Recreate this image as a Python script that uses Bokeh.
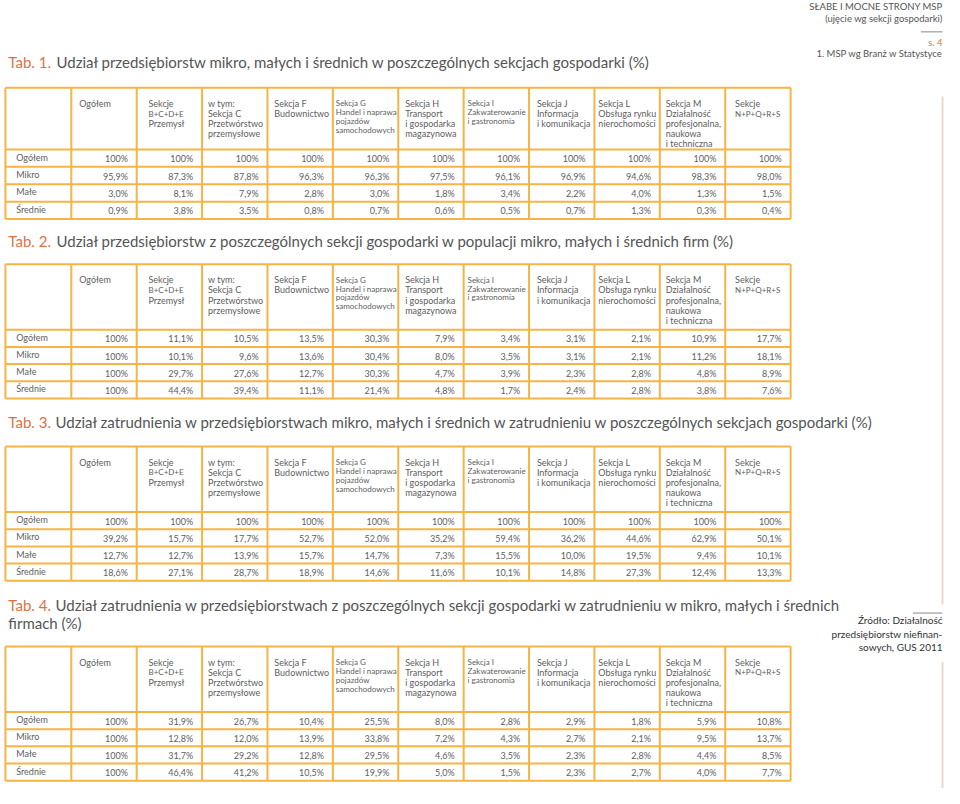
from bokeh.plotting import figure
from bokeh.models import Range1d, ColumnDataSource
from bokeh.core.properties import value
from bokeh.embed import file_html
from bokeh.resources import INLINE

FONT = "Lato"

# ---------------- data ----------------
row_labels = ["Ogółem", "Mikro", "Małe", "Średnie"]

col_headers = [
    "Ogółem",
    "Sekcje\nB+C+D+E\nPrzemysł",
    "w tym:\nSekcja C\nPrzetwórstwo\nprzemysłowe",
    "Sekcja F\nBudownictwo",
    "Sekcja G\nHandel i naprawa\npojazdów\nsamochodowych",
    "Sekcja H\nTransport\ni gospodarka\nmagazynowa",
    "Sekcja I\nZakwaterowanie\ni gastronomia",
    "Sekcja J\nInformacja\ni komunikacja",
    "Sekcja L\nObsługa rynku\nnierochomości",
    "Sekcja M\nDziałalność\nprofesjonalna,\nnaukowa\ni techniczna",
    "Sekcje\nN+P+Q+R+S",
]
small_header_cols = [4, 6]
code_lines = ["B+C+D+E", "N+P+Q+R+S"]

title_tags = ["Tab. 1.", "Tab. 2.", "Tab. 3.", "Tab. 4."]
title_texts = [
    ["Udział przedsiębiorstw mikro, małych i średnich w poszczególnych sekcjach gospodarki (%)"],
    ["Udział przedsiębiorstw z poszczególnych sekcji gospodarki w populacji mikro, małych i średnich firm (%)"],
    ["Udział zatrudnienia w przedsiębiorstwach mikro, małych i średnich w zatrudnieniu w poszczególnych sekcjach gospodarki (%)"],
    ["Udział zatrudnienia w przedsiębiorstwach z poszczególnych sekcji gospodarki w zatrudnieniu w mikro, małych i średnich",
     "firmach (%)"],
]

# Tab. 1
t1_ogolem = [100, 100, 100, 100, 100, 100, 100, 100, 100, 100, 100]
t1_mikro = [95.9, 87.3, 87.8, 96.3, 96.3, 97.5, 96.1, 96.9, 94.6, 98.3, 98.0]
t1_male = [3.0, 8.1, 7.9, 2.8, 3.0, 1.8, 3.4, 2.2, 4.0, 1.3, 1.5]
t1_srednie = [0.9, 3.8, 3.5, 0.8, 0.7, 0.6, 0.5, 0.7, 1.3, 0.3, 0.4]
# Tab. 2
t2_ogolem = [100, 11.1, 10.5, 13.5, 30.3, 7.9, 3.4, 3.1, 2.1, 10.9, 17.7]
t2_mikro = [100, 10.1, 9.6, 13.6, 30.4, 8.0, 3.5, 3.1, 2.1, 11.2, 18.1]
t2_male = [100, 29.7, 27.6, 12.7, 30.3, 4.7, 3.9, 2.3, 2.8, 4.8, 8.9]
t2_srednie = [100, 44.4, 39.4, 11.1, 21.4, 4.8, 1.7, 2.4, 2.8, 3.8, 7.6]
# Tab. 3
t3_ogolem = [100, 100, 100, 100, 100, 100, 100, 100, 100, 100, 100]
t3_mikro = [39.2, 15.7, 17.7, 52.7, 52.0, 35.2, 59.4, 36.2, 44.6, 62.9, 50.1]
t3_male = [12.7, 12.7, 13.9, 15.7, 14.7, 7.3, 15.5, 10.0, 19.5, 9.4, 10.1]
t3_srednie = [18.6, 27.1, 28.7, 18.9, 14.6, 11.6, 10.1, 14.8, 27.3, 12.4, 13.3]
# Tab. 4
t4_ogolem = [100, 31.9, 26.7, 10.4, 25.5, 8.0, 2.8, 2.9, 1.8, 5.9, 10.8]
t4_mikro = [100, 12.8, 12.0, 13.9, 33.8, 7.2, 4.3, 2.7, 2.1, 9.5, 13.7]
t4_male = [100, 31.7, 29.2, 12.8, 29.5, 4.6, 3.5, 2.3, 2.8, 4.4, 8.5]
t4_srednie = [100, 46.4, 41.2, 10.5, 19.9, 5.0, 1.5, 2.3, 2.7, 4.0, 7.7]

header_right = ["SŁABE I MOCNE STRONY MSP", "(ujęcie wg sekcji gospodarki)"]
page_no = "s. 4"
chapter = "1. MSP wg Branż w Statystyce"
source_lines = ["Źródło: Działalność", "przedsiębiorstw niefinan-", "sowych, GUS 2011"]

# ---------------- style / layout ----------------
ORANGE_LINE = "#f6b446"
TAG_COLOR = "#e2703f"
TITLE_COLOR = "#555555"
CELL_COLOR = "#5e5e5e"

tables = [
    dict(rows=[t1_ogolem, t1_mikro, t1_male, t1_srednie], title_y=63, top=89, head=152, bottom=223, rest_x=57),
    dict(rows=[t2_ogolem, t2_mikro, t2_male, t2_srednie], title_y=245, top=269, head=336, bottom=406, rest_x=57),
    dict(rows=[t3_ogolem, t3_mikro, t3_male, t3_srednie], title_y=430, top=455, head=522, bottom=592, rest_x=56),
    dict(rows=[t4_ogolem, t4_mikro, t4_male, t4_srednie], title_y=617, top=659, head=726, bottom=796, rest_x=56),
]
LEFT = 5
FIRST_W = 67
COL_W = 66.5
col_edges = [LEFT] + [LEFT + FIRST_W + i * COL_W for i in range(12)]
header_indent = [8, 12, 6, 7, 3, 7, 4, 8, 4, 6, 10]


def fmt(v):
    if v == 100:
        return "100%"
    return ("%.1f%%" % v).replace(".", ",")


p = figure(width=944, height=788, output_backend="svg", toolbar_location=None,
           x_range=Range1d(0, 960), y_range=Range1d(804, 0), min_border=0)
p.axis.visible = False
p.grid.visible = False
p.outline_line_color = None
p.background_fill_color = "white"
p.border_fill_color = "white"

seg = dict(x0=[], y0=[], x1=[], y1=[])
cells = dict(x=[], y=[], t=[])
labels = dict(x=[], y=[], t=[])
hdr = {"9px": dict(x=[], y=[], t=[]), "8px": dict(x=[], y=[], t=[])}
tags = dict(x=[], y=[], t=[])
ttl = dict(x=[], y=[], t=[])

for ti, tb in enumerate(tables):
    top, head, bottom = tb["top"], tb["head"], tb["bottom"]
    nrows = len(tb["rows"])
    rh = (bottom - head) / nrows
    hlines = [top, head] + [head + rh * (i + 1) for i in range(nrows)]
    for y in hlines:
        seg["x0"].append(col_edges[0]); seg["x1"].append(col_edges[-1])
        seg["y0"].append(y); seg["y1"].append(y)
    for x in col_edges:
        seg["x0"].append(x); seg["x1"].append(x)
        seg["y0"].append(top); seg["y1"].append(bottom)
    # title
    tags["x"].append(8); tags["y"].append(tb["title_y"]); tags["t"].append(title_tags[ti])
    for li, line in enumerate(title_texts[ti]):
        ttl["x"].append(tb["rest_x"] if li == 0 else 8)
        ttl["y"].append(tb["title_y"] + 18 * li)
        ttl["t"].append(line)
    # headers
    for ci, h in enumerate(col_headers):
        small = ci in small_header_cols
        step = 9.0 if small else 10.3
        x = col_edges[ci + 1] + header_indent[ci]
        for li, line in enumerate(h.split("\n")):
            key = "8px" if (small or line in code_lines) else "9px"
            hdr[key]["x"].append(x)
            hdr[key]["y"].append(top + 16 + step * li)
            hdr[key]["t"].append(line)
    # rows
    for ri, row in enumerate(tb["rows"]):
        yc = head + rh * (ri + 0.5)
        labels["x"].append(16); labels["y"].append(yc - 1); labels["t"].append(row_labels[ri])
        for ci, v in enumerate(row):
            cells["x"].append(col_edges[ci + 2] - 9)
            cells["y"].append(yc + 0.5)
            cells["t"].append(fmt(v))

p.segment(x0="x0", y0="y0", x1="x1", y1="y1", source=ColumnDataSource(seg),
          line_color=ORANGE_LINE, line_width=2)

p.text(x="x", y="y", text="t", source=ColumnDataSource(cells), text_font=value(FONT),
       text_font_size=value("9px"), text_align="right", text_baseline="middle", text_color=CELL_COLOR)
p.text(x="x", y="y", text="t", source=ColumnDataSource(labels), text_font=value(FONT),
       text_font_size=value("9px"), text_align="left", text_baseline="middle", text_color=CELL_COLOR)
for size, d in hdr.items():
    p.text(x="x", y="y", text="t", source=ColumnDataSource(d), text_font=value(FONT),
           text_font_size=value(size), text_align="left", text_baseline="middle", text_color=CELL_COLOR)
p.text(x="x", y="y", text="t", source=ColumnDataSource(tags), text_font=value(FONT),
       text_font_size=value("15px"), text_align="left", text_baseline="middle", text_color=TAG_COLOR)
p.text(x="x", y="y", text="t", source=ColumnDataSource(ttl), text_font=value(FONT),
       text_font_size=value("15px"), text_align="left", text_baseline="middle", text_color=TITLE_COLOR)

# top-right running header
tr = dict(x=[958, 958, 958], y=[6, 18, 54], t=[header_right[0], header_right[1], chapter])
p.text(x="x", y="y", text="t", source=ColumnDataSource(tr), text_font=value(FONT),
       text_font_size=value("9.5px"), text_align="right", text_baseline="middle", text_color="#555555")
p.text(x=[958], y=[43], text=[page_no], text_font=value(FONT), text_font_size=value("9.5px"),
       text_align="right", text_baseline="middle", text_color=TAG_COLOR)
p.segment(x0=[936, 928], y0=[32, 625], x1=[958, 958], y1=[32, 625], line_color="#888888", line_width=1)

# source note
src = dict(x=[958, 958, 958], y=[632, 646, 660], t=source_lines)
p.text(x="x", y="y", text="t", source=ColumnDataSource(src), text_font=value(FONT),
       text_font_size=value("10px"), text_align="right", text_baseline="middle", text_color="#333333")

# decorative right rule
p.segment(x0=[958, 958], y0=[98, 675], x1=[958, 958], y1=[616, 804], line_color="#e9d9d0", line_width=2)

open("out.html", "w").write(file_html(p, INLINE))
